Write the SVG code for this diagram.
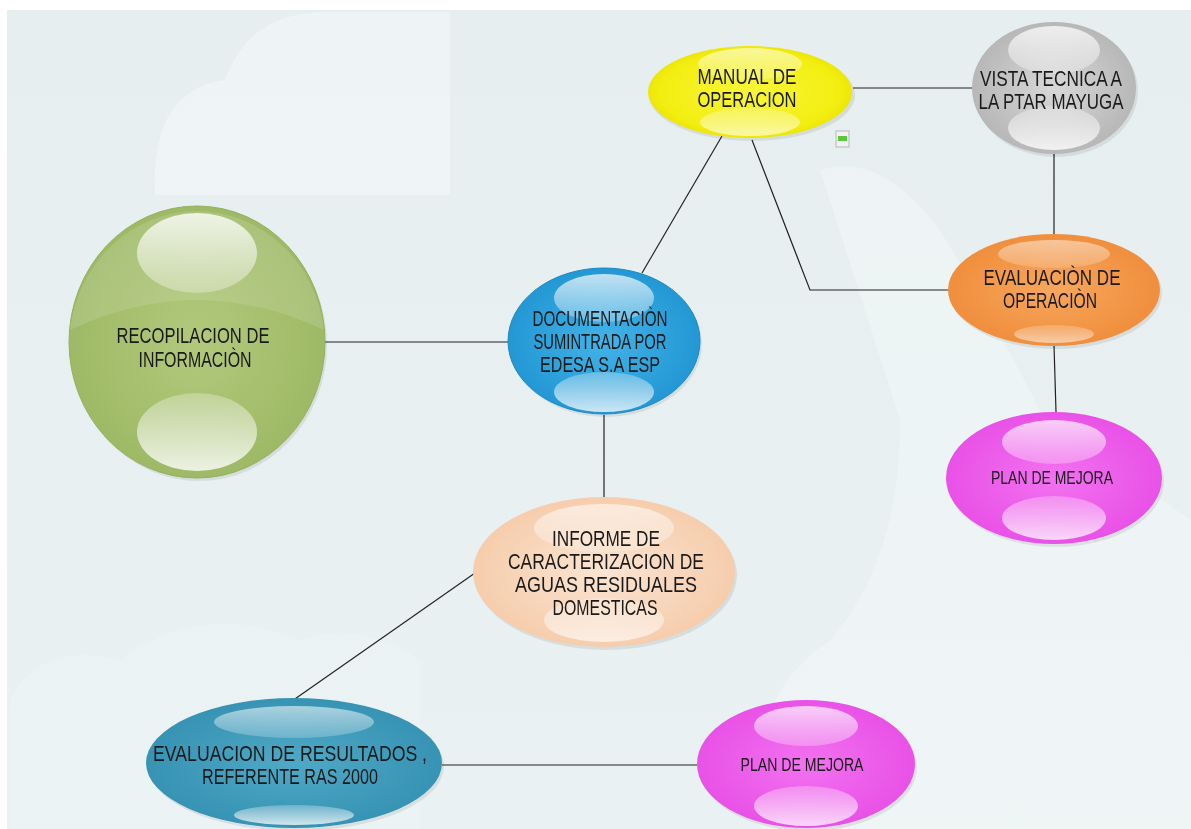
<svg xmlns="http://www.w3.org/2000/svg" width="1191" height="829" viewBox="0 0 1191 829">
<defs>
<style>
.lbl{font-family:"Liberation Sans Narrow","Liberation Sans",Arial,sans-serif;font-size:22px;fill:#1a1a1a;}
.sm{font-size:18px;}
.con{stroke:#222;stroke-width:1.2;fill:none;}
.cloud{fill:#f4f8f9;}
</style>
<linearGradient id="bg" x1="0" y1="0" x2="0" y2="1"><stop offset="0" stop-color="#e6eef0"/><stop offset="1" stop-color="#e9f1f2"/></linearGradient>
<linearGradient id="hiTop" x1="0" y1="0" x2="0" y2="1"><stop offset="0" stop-color="#fff" stop-opacity="0.95"/><stop offset="1" stop-color="#fff" stop-opacity="0.35"/></linearGradient>
<linearGradient id="hiBot" x1="0" y1="0" x2="0" y2="1"><stop offset="0" stop-color="#fff" stop-opacity="0.3"/><stop offset="1" stop-color="#fff" stop-opacity="0.9"/></linearGradient>
<radialGradient id="gY" cx="0.5" cy="0.5" r="0.55"><stop offset="0" stop-color="#f8f53a"/><stop offset="0.8" stop-color="#f3ee10"/><stop offset="1" stop-color="#e8e000"/></radialGradient>
<radialGradient id="gG" cx="0.5" cy="0.5" r="0.55"><stop offset="0" stop-color="#d8d8d8"/><stop offset="1" stop-color="#b4b4b4"/></radialGradient>
<radialGradient id="gV" cx="0.5" cy="0.5" r="0.55"><stop offset="0" stop-color="#b2c97c"/><stop offset="1" stop-color="#9cb864"/></radialGradient>
<radialGradient id="gB" cx="0.5" cy="0.5" r="0.55"><stop offset="0" stop-color="#43b3e8"/><stop offset="1" stop-color="#1f95d2"/></radialGradient>
<radialGradient id="gO" cx="0.5" cy="0.5" r="0.55"><stop offset="0" stop-color="#f7a75c"/><stop offset="1" stop-color="#ef8c3a"/></radialGradient>
<radialGradient id="gP" cx="0.5" cy="0.5" r="0.55"><stop offset="0" stop-color="#f272f0"/><stop offset="1" stop-color="#e84ee6"/></radialGradient>
<radialGradient id="gC" cx="0.5" cy="0.5" r="0.55"><stop offset="0" stop-color="#fbe4d2"/><stop offset="1" stop-color="#f5cba9"/></radialGradient>
<radialGradient id="gT" cx="0.5" cy="0.5" r="0.55"><stop offset="0" stop-color="#4fa9c6"/><stop offset="1" stop-color="#3591b2"/></radialGradient>
</defs>
<rect x="0" y="0" width="1191" height="829" fill="#ffffff"/>
<rect x="7" y="10" width="1184" height="819" fill="url(#bg)"/>
<g id="clouds" opacity="0.6">
<path class="cloud" d="M155,195 Q150,90 225,80 Q250,10 330,12 L450,12 L450,195 Z"/>
<path class="cloud" d="M820,170 Q880,150 940,230 Q1000,330 1050,430 Q1120,470 1191,520 L1191,829 L760,829 Q740,700 830,640 Q900,560 900,420 Z" opacity="0.8"/>
<path class="cloud" d="M10,700 Q40,640 120,660 Q200,600 300,640 Q360,620 420,660 L420,829 L10,829 Z" opacity="0.6"/>
</g>
<g id="connectors">
<line class="con" x1="853" y1="88" x2="973" y2="88"/>
<line class="con" x1="1054" y1="152" x2="1054" y2="234"/>
<line class="con" x1="722" y1="136" x2="642" y2="273"/>
<polyline class="con" points="752,140 810,290 948,290"/>
<line class="con" x1="1054" y1="345" x2="1056" y2="412"/>
<line class="con" x1="325" y1="342" x2="508" y2="342"/>
<line class="con" x1="604" y1="415" x2="604" y2="497"/>
<line class="con" x1="475" y1="573" x2="292" y2="701"/>
<line class="con" x1="442" y1="765" x2="697" y2="765"/>
</g>
<g id="collapse-icon">
<rect x="836" y="131" width="13" height="16" fill="#f2f2f2" stroke="#b8b8b8" stroke-width="1"/>
<rect x="838" y="136" width="9" height="5" fill="#5cc83a"/>
</g>
<g id="n-manual">
<ellipse cx="752" cy="95" rx="103" ry="46" fill="#000" opacity="0.08"/>
<ellipse cx="750" cy="92" rx="102" ry="46" fill="url(#gY)"/>
<ellipse cx="750" cy="64" rx="52" ry="16" fill="url(#hiTop)" opacity="0.6"/>
<ellipse cx="750" cy="122" rx="50" ry="14" fill="url(#hiBot)" opacity="0.7"/>
<text class="lbl" x="747" y="84" text-anchor="middle" textLength="99" lengthAdjust="spacingAndGlyphs">MANUAL DE</text>
<text class="lbl" x="747" y="107" text-anchor="middle" textLength="99" lengthAdjust="spacingAndGlyphs">OPERACION</text>
</g>
<g id="n-vista">
<ellipse cx="1056" cy="91" rx="82" ry="66" fill="#000" opacity="0.08"/>
<ellipse cx="1054" cy="88" rx="82" ry="66" fill="url(#gG)"/>
<ellipse cx="1054" cy="50" rx="46" ry="24" fill="url(#hiTop)" opacity="0.8"/>
<ellipse cx="1054" cy="128" rx="46" ry="22" fill="url(#hiBot)" opacity="0.9"/>
<text class="lbl" x="1051" y="86" text-anchor="middle" textLength="142" lengthAdjust="spacingAndGlyphs">VISTA TECNICA A</text>
<text class="lbl" x="1051" y="109" text-anchor="middle" textLength="145" lengthAdjust="spacingAndGlyphs">LA PTAR MAYUGA</text>
</g>
<g id="n-recop">
<ellipse cx="199" cy="345" rx="128" ry="136" fill="#000" opacity="0.08"/>
<ellipse cx="197" cy="342" rx="128" ry="136" fill="url(#gV)" stroke="#94b05a" stroke-width="1"/>
<path d="M70,330 Q197,270 324,330 A128,136 0 0 0 70,330 Z" fill="#fff" opacity="0.12"/>
<ellipse cx="197" cy="253" rx="60" ry="40" fill="url(#hiTop)" opacity="0.85"/>
<ellipse cx="197" cy="432" rx="60" ry="39" fill="url(#hiBot)" opacity="0.9"/>
<text class="lbl" x="193" y="343" text-anchor="middle" textLength="153" lengthAdjust="spacingAndGlyphs">RECOPILACION DE</text>
<text class="lbl" x="195" y="367" text-anchor="middle" textLength="113" lengthAdjust="spacingAndGlyphs">INFORMACIÒN</text>
</g>
<g id="n-doc">
<ellipse cx="606" cy="344" rx="96" ry="73" fill="#000" opacity="0.08"/>
<ellipse cx="604" cy="341" rx="96" ry="73" fill="url(#gB)" stroke="#1a88c0" stroke-width="1"/>
<ellipse cx="604" cy="298" rx="50" ry="24" fill="url(#hiTop)" opacity="0.75"/>
<ellipse cx="604" cy="392" rx="50" ry="20" fill="url(#hiBot)" opacity="0.85"/>
<text class="lbl" x="600" y="326" text-anchor="middle" textLength="135" lengthAdjust="spacingAndGlyphs">DOCUMENTACIÒN</text>
<text class="lbl" x="600" y="349" text-anchor="middle" textLength="133" lengthAdjust="spacingAndGlyphs">SUMINTRADA POR</text>
<text class="lbl" x="600" y="372" text-anchor="middle" textLength="120" lengthAdjust="spacingAndGlyphs">EDESA S.A ESP</text>
</g>
<g id="n-evalop">
<ellipse cx="1056" cy="293" rx="106" ry="56" fill="#000" opacity="0.08"/>
<ellipse cx="1054" cy="290" rx="106" ry="56" fill="url(#gO)"/>
<ellipse cx="1054" cy="254" rx="56" ry="14" fill="url(#hiTop)" opacity="0.5"/>
<ellipse cx="1054" cy="334" rx="40" ry="9" fill="url(#hiBot)" opacity="0.6"/>
<text class="lbl" x="1052" y="285" text-anchor="middle" textLength="137" lengthAdjust="spacingAndGlyphs">EVALUACIÒN DE</text>
<text class="lbl" x="1050" y="308" text-anchor="middle" textLength="94" lengthAdjust="spacingAndGlyphs">OPERACIÒN</text>
</g>
<g id="n-plan1">
<ellipse cx="1056" cy="481" rx="108" ry="66" fill="#000" opacity="0.08"/>
<ellipse cx="1054" cy="478" rx="108" ry="66" fill="url(#gP)"/>
<ellipse cx="1054" cy="442" rx="52" ry="22" fill="url(#hiTop)" opacity="0.75"/>
<ellipse cx="1054" cy="518" rx="52" ry="22" fill="url(#hiBot)" opacity="0.85"/>
<text class="lbl sm" x="1052" y="484" text-anchor="middle" textLength="122" lengthAdjust="spacingAndGlyphs">PLAN DE MEJORA</text>
</g>
<g id="n-informe">
<ellipse cx="606" cy="575" rx="131" ry="75" fill="#000" opacity="0.08"/>
<ellipse cx="604" cy="572" rx="131" ry="75" fill="url(#gC)"/>
<ellipse cx="604" cy="528" rx="70" ry="24" fill="url(#hiTop)" opacity="0.6"/>
<ellipse cx="604" cy="620" rx="60" ry="22" fill="url(#hiBot)" opacity="0.7"/>
<text class="lbl" x="606" y="546" text-anchor="middle" textLength="108" lengthAdjust="spacingAndGlyphs">INFORME DE</text>
<text class="lbl" x="606" y="569" text-anchor="middle" textLength="196" lengthAdjust="spacingAndGlyphs">CARACTERIZACION DE</text>
<text class="lbl" x="606" y="592" text-anchor="middle" textLength="182" lengthAdjust="spacingAndGlyphs">AGUAS RESIDUALES</text>
<text class="lbl" x="605" y="615" text-anchor="middle" textLength="105" lengthAdjust="spacingAndGlyphs">DOMESTICAS</text>
</g>
<g id="n-evalres">
<ellipse cx="296" cy="766" rx="148" ry="65" fill="#000" opacity="0.08"/>
<ellipse cx="294" cy="763" rx="148" ry="65" fill="url(#gT)"/>
<ellipse cx="294" cy="722" rx="80" ry="16" fill="url(#hiTop)" opacity="0.6"/>
<ellipse cx="294" cy="815" rx="60" ry="10" fill="url(#hiBot)" opacity="0.85"/>
<text class="lbl" x="290" y="761" text-anchor="middle" textLength="274" lengthAdjust="spacingAndGlyphs">EVALUACION DE RESULTADOS ,</text>
<text class="lbl" x="290" y="784" text-anchor="middle" textLength="176" lengthAdjust="spacingAndGlyphs">REFERENTE RAS 2000</text>
</g>
<g id="n-plan2">
<ellipse cx="808" cy="767" rx="109" ry="64" fill="#000" opacity="0.08"/>
<ellipse cx="806" cy="764" rx="109" ry="64" fill="url(#gP)"/>
<ellipse cx="806" cy="726" rx="52" ry="20" fill="url(#hiTop)" opacity="0.75"/>
<ellipse cx="806" cy="806" rx="52" ry="20" fill="url(#hiBot)" opacity="0.85"/>
<text class="lbl sm" x="802" y="771" text-anchor="middle" textLength="123" lengthAdjust="spacingAndGlyphs">PLAN DE MEJORA</text>
</g>
</svg>
